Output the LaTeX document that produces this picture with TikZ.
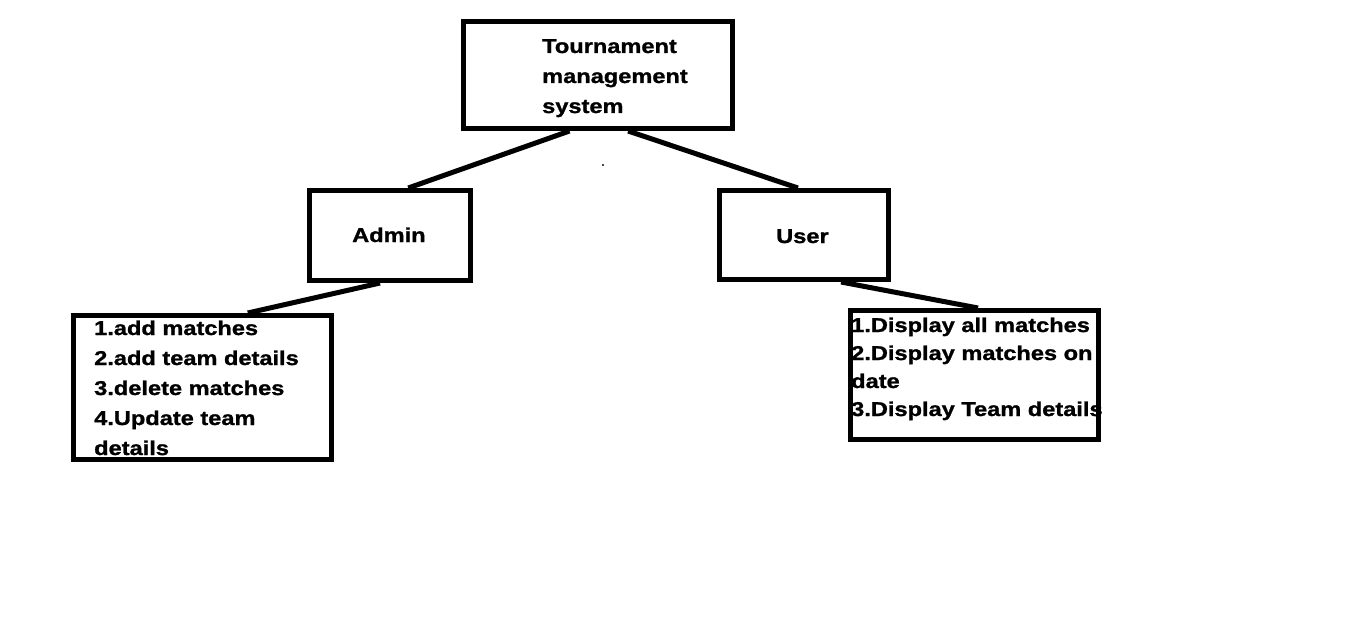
\documentclass[tikz,border=0pt]{standalone}
\usepackage{fontspec}
\setmainfont[FakeStretch=1.18,BoldFont={Liberation Sans Bold},BoldFeatures={FakeBold=1.2}]{Liberation Sans}
\usetikzlibrary{calc}
\begin{document}
\begin{tikzpicture}[x=1pt,y=-1pt,
  box/.style={draw,line width=5pt,inner sep=0pt,rectangle},
  txt/.style={anchor=base west,inner sep=0pt,font=\fontsize{20}{24}\selectfont\bfseries},
  conn/.style={line width=5pt}]
\useasboundingbox (0,0) rectangle (1360,623);
\fill[white] (0,0) rectangle (1360,623);
% boxes
\node[box,minimum width=269pt,minimum height=107pt] (top) at (598,75) {};
\node[box,minimum width=161pt,minimum height=90pt] (admin) at (390,235.5) {};
\node[box,minimum width=169pt,minimum height=89pt] (user) at (804,235) {};
\node[box,minimum width=258pt,minimum height=144pt] (alist) at (202.5,387.5) {};
\node[box,minimum width=248pt,minimum height=129pt] (ulist) at (974.5,375) {};
% texts
\node[txt] (t1) at (542,53) {Tournament};
\node[txt] (t2) at (542,83) {management};
\node[txt] (t3) at (542,113) {system};
\node[txt] (ta) at (352,242) {Admin};
\node[txt] (tu) at (776,243) {User};
\node[txt] (a1) at (94,335) {1.add matches};
\node[txt] (a2) at (94,365) {2.add team details};
\node[txt] (a3) at (94,395) {3.delete matches};
\node[txt] (a4) at (94,425) {4.Update team};
\node[txt] (a5) at (94,455) {details};
\node[txt] (u1) at (851,332) {1.Display all matches};
\node[txt] (u2) at (851,360) {2.Display matches on};
\node[txt] (u3) at (851,388) {date};
\node[txt] (u4) at (851,416) {3.Display Team details};
% connectors
\draw[conn] ($(top.south west)!0.396!(top.south east)$) -- ($(admin.north west)!0.61!(admin.north east)$);
\draw[conn] ($(top.south west)!0.61!(top.south east)$) -- ($(user.north west)!0.465!(user.north east)$);
\draw[conn] ($(admin.south west)!0.44!(admin.south east)$) -- ($(alist.north west)!0.672!(alist.north east)$);
\draw[conn] ($(user.south west)!0.713!(user.south east)$) -- ($(ulist.north west)!0.514!(ulist.north east)$);
% stray dot
\fill[black!70] (602,164) rectangle (604,166);
\end{tikzpicture}
\end{document}
